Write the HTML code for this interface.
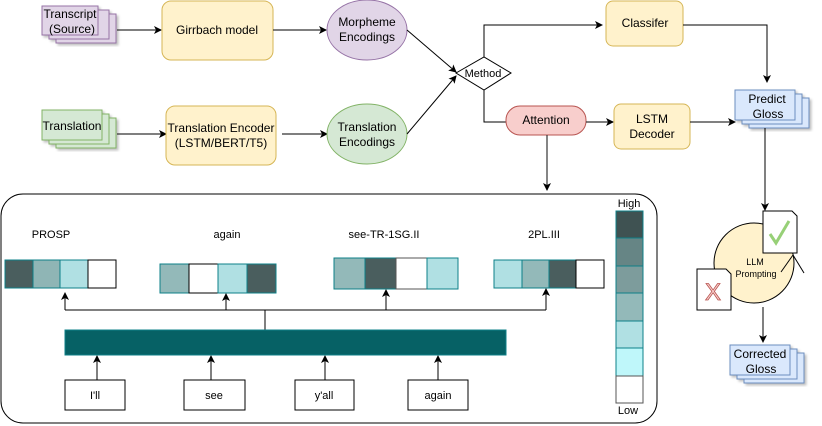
<!DOCTYPE html>
<html><head><meta charset="utf-8"><style>
body{margin:0;background:#fff}
svg{display:block;font-family:"Liberation Sans",sans-serif}
</style></head><body>
<svg width="822" height="426" viewBox="0 0 822 426" xmlns="http://www.w3.org/2000/svg">
<defs>
<marker id="a" markerWidth="8" markerHeight="8" refX="7" refY="4" orient="auto" markerUnits="userSpaceOnUse"><path d="M0,0 L8,4 L0,8 L2,4 Z" fill="#000"/></marker>
<filter id="sh"><feDropShadow dx="2" dy="2" stdDeviation="1.2" flood-color="#000" flood-opacity="0.25"/></filter>
</defs>
<g font-size="12" text-anchor="middle" fill="#000">
<!-- Transcript stack -->
<g fill="#e1d5e7" stroke="#9673a6" filter="url(#sh)">
<rect x="56" y="14" width="60" height="29"/><rect x="49" y="10" width="60" height="29"/><rect x="42" y="6" width="56" height="29"/></g>
<text x="70" y="18">Transcript</text><text x="72" y="33">(Source)</text>
<line x1="117" y1="30" x2="161" y2="30" stroke="#333" stroke-width="1.2" marker-end="url(#a)"/>
<rect x="162" y="1" width="111" height="59" rx="9" fill="#fff2cc" stroke="#d6b656"/>
<text x="217" y="34">Girrbach model</text>
<line x1="273" y1="30" x2="326" y2="30" stroke="#333" stroke-width="1.2" marker-end="url(#a)"/>
<ellipse cx="367" cy="30" rx="40" ry="30" fill="#e1d5e7" stroke="#9673a6"/>
<text x="367" y="26">Morpheme</text><text x="367" y="41">Encodings</text>
<!-- Translation stack -->
<g fill="#d5e8d4" stroke="#82b366" filter="url(#sh)">
<rect x="56" y="118" width="60" height="30"/><rect x="49" y="114" width="60" height="30"/><rect x="42" y="110" width="60" height="30"/></g>
<text x="72" y="130">Translation</text>
<line x1="117" y1="134" x2="166" y2="134" stroke="#333" stroke-width="1.2" marker-end="url(#a)"/>
<rect x="166" y="106" width="110" height="59" rx="9" fill="#fff2cc" stroke="#d6b656"/>
<text x="221" y="132">Translation Encoder</text><text x="221" y="147">(LSTM/BERT/T5)</text>
<line x1="282" y1="134" x2="327" y2="134" stroke="#333" stroke-width="1.2" marker-end="url(#a)"/>
<ellipse cx="367" cy="134" rx="40" ry="30" fill="#d5e8d4" stroke="#82b366"/>
<text x="367" y="131">Translation</text><text x="367" y="146">Encodings</text>
<!-- to method -->
<line x1="407" y1="30" x2="456" y2="72" stroke="#000" marker-end="url(#a)"/>
<line x1="407" y1="134" x2="456" y2="76" stroke="#000" marker-end="url(#a)"/>
<polygon points="456,73 484,57 511,73 484,90" fill="#fff" stroke="#000"/>
<text x="483" y="77" font-size="11">Method</text>
<polyline points="484,57 484,25 602,25" fill="none" stroke="#000" marker-end="url(#a)"/>
<rect x="606" y="1" width="77" height="45" rx="7" fill="#fff2cc" stroke="#d6b656"/>
<text x="645" y="27">Classifer</text>
<polyline points="683,25 767,25 767,82" fill="none" stroke="#000" marker-end="url(#a)"/>
<polyline points="484,90 484,122 506,122" fill="none" stroke="#000"/>
<rect x="506" y="106" width="80" height="29" rx="14" fill="#f8cecc" stroke="#b85450"/>
<text x="546" y="124">Attention</text>
<line x1="586" y1="122" x2="613" y2="122" stroke="#333" stroke-width="1.2" marker-end="url(#a)"/>
<rect x="614" y="104" width="76" height="45" rx="7" fill="#fff2cc" stroke="#d6b656"/>
<text x="652" y="123">LSTM</text><text x="652" y="138">Decoder</text>
<line x1="690" y1="122" x2="735" y2="122" stroke="#000" marker-end="url(#a)"/>
<g fill="#dae8fc" stroke="#6c8ebf" filter="url(#sh)">
<rect x="749" y="98" width="60" height="30"/><rect x="742" y="94" width="60" height="30"/><rect x="735" y="90" width="60" height="30"/></g>
<text x="767" y="103">Predict</text><text x="768" y="118">Gloss</text>
<line x1="547" y1="135" x2="547" y2="190" stroke="#333" stroke-width="1.2" marker-end="url(#a)"/>
<line x1="765" y1="128" x2="765" y2="210" stroke="#000" marker-end="url(#a)"/>
<!-- LLM -->
<circle cx="754" cy="263" r="40" fill="#fff2cc" stroke="#000"/>
<text x="755" y="265" font-size="9">LLM</text><text x="756" y="277" font-size="9">Prompting</text>
<path d="M763,211 L792,211 L797,216 L797,253 L763,253 Z" fill="#fff" stroke="#000"/>
<path d="M770,234 l6,9 l13,-22" fill="none" stroke="#97d077" stroke-width="3"/>
<path d="M697,269 L726,269 L731,274 L731,310 L697,310 Z" fill="#fff" stroke="#000"/>
<text x="713" y="300" font-size="24" fill="#f8cecc" stroke="#b85450" stroke-width="0.8">X</text>
<line x1="781" y1="272" x2="793" y2="255" stroke="#000"/><line x1="793" y1="255" x2="804" y2="273" stroke="#000"/>
<line x1="763" y1="307" x2="763" y2="342" stroke="#000" marker-end="url(#a)"/>
<g fill="#dae8fc" stroke="#6c8ebf" filter="url(#sh)">
<rect x="744" y="353" width="60" height="30"/><rect x="737" y="349" width="60" height="30"/><rect x="730" y="345" width="60" height="30"/></g>
<text x="760" y="358">Corrected</text><text x="761" y="373">Gloss</text>
<!-- panel -->
<rect x="1" y="194" width="656" height="229" rx="22" fill="none" stroke="#000"/>
<g font-size="11">
<text x="51" y="238">PROSP</text><text x="227" y="238">again</text><text x="384" y="238">see-TR-1SG.II</text><text x="544" y="238">2PL.III</text></g>
<g stroke="#0e8088" stroke-width="1">
<rect x="5" y="260" width="28" height="28" fill="#4a5e5e"/><rect x="33" y="260" width="27" height="28" fill="#8fb5b5"/><rect x="60" y="260" width="28" height="28" fill="#b0e0e3"/><rect x="88" y="260" width="28" height="28" fill="#fff" stroke="#000"/>
<rect x="160" y="264" width="29" height="29" fill="#93b9b9"/><rect x="189" y="264" width="29" height="29" fill="#fff" stroke="#000"/><rect x="218" y="264" width="29" height="29" fill="#b0e0e3"/><rect x="247" y="264" width="29" height="29" fill="#4a5e5e"/>
<rect x="334" y="258" width="31" height="31" fill="#93b9b9"/><rect x="365" y="258" width="31" height="31" fill="#4a5e5e"/><rect x="396" y="258" width="31" height="31" fill="#fff" stroke="#555"/><rect x="427" y="258" width="31" height="31" fill="#b0e0e3"/>
<rect x="494" y="260" width="28" height="28" fill="#b0e0e3"/><rect x="522" y="260" width="27" height="28" fill="#93b9b9"/><rect x="549" y="260" width="27" height="28" fill="#4a5e5e"/><rect x="576" y="260" width="28" height="28" fill="#fff" stroke="#000"/>
</g>
<g stroke="#000" fill="none">
<polyline points="65,310 546,310"/><line x1="265" y1="310" x2="265" y2="330"/>
<line x1="65" y1="310" x2="65" y2="293" marker-end="url(#a)"/>
<line x1="226" y1="310" x2="226" y2="294" marker-end="url(#a)"/>
<line x1="386" y1="310" x2="386" y2="290" marker-end="url(#a)"/>
<line x1="546" y1="310" x2="546" y2="289" marker-end="url(#a)"/>
<line x1="97" y1="380" x2="97" y2="356" marker-end="url(#a)"/>
<line x1="211" y1="380" x2="211" y2="356" marker-end="url(#a)"/>
<line x1="325" y1="380" x2="325" y2="356" marker-end="url(#a)"/>
<line x1="438" y1="380" x2="438" y2="356" marker-end="url(#a)"/>
</g>
<rect x="65" y="330" width="441" height="25" fill="#066165" stroke="#0e8088"/>
<g fill="#fff" stroke="#000">
<rect x="65" y="380" width="60" height="30"/><rect x="184" y="380" width="61" height="30"/><rect x="295" y="380" width="59" height="30"/><rect x="408" y="380" width="60" height="30"/></g>
<g font-size="11"><text x="95" y="399">I'll</text><text x="214" y="399">see</text><text x="324" y="399">y'all</text><text x="438" y="399">again</text></g>
<!-- scale -->
<g stroke="#0e8088">
<rect x="616" y="211" width="27" height="27" fill="#3f5252"/><rect x="616" y="238" width="27" height="28" fill="#668585"/><rect x="616" y="266" width="27" height="27" fill="#7d9c9c"/><rect x="616" y="293" width="27" height="28" fill="#93b9b9"/><rect x="616" y="321" width="27" height="27" fill="#b0e0e3"/><rect x="616" y="348" width="27" height="28" fill="#bff7fa"/><rect x="616" y="376" width="27" height="27" fill="#fff" stroke="#555"/></g>
<g font-size="11"><text x="629" y="207">High</text><text x="628" y="414">Low</text></g>
</g>
</svg>
</body></html>
